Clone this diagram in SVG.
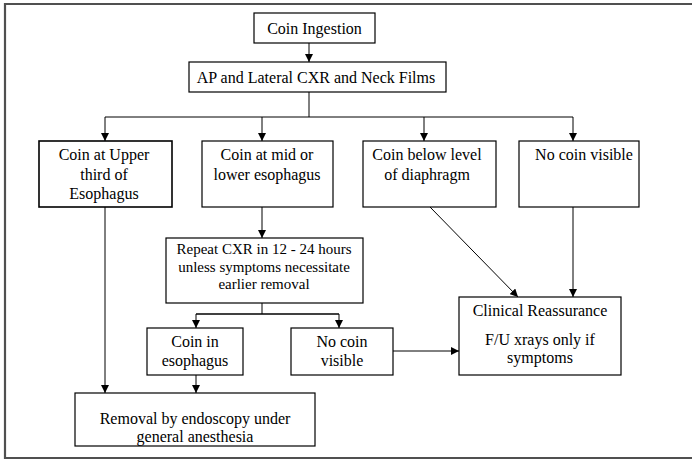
<svg xmlns="http://www.w3.org/2000/svg" width="692" height="460" viewBox="0 0 692 460">
<style>
text{font-family:'Liberation Serif','Times New Roman',Times,'DejaVu Serif',serif;font-size:16px;fill:#000;text-anchor:middle}
.box{fill:#fff;stroke:#000;stroke-width:1.2}
.s{font-size:15px}
.c{fill:none;stroke:#000;stroke-width:1}
</style>
<defs>
<marker id="ah" viewBox="0 0 10 10" refX="10" refY="5" markerWidth="8" markerHeight="8" markerUnits="userSpaceOnUse" orient="auto">
<path d="M0,0 L10,5 L0,10 z" fill="#000"/>
</marker>
</defs>
<rect width="692" height="460" fill="#fff"/>
<path d="M692,4 H5 V458 H692" fill="none" stroke="#505050" stroke-width="2.2"/>
<g id="connectors">
<line class="c" x1="309" y1="43" x2="309" y2="62" marker-end="url(#ah)"/>
<polyline class="c" points="309,92 309,117"/>
<polyline class="c" points="105,117 573,117"/>
<line class="c" x1="105" y1="117" x2="105" y2="141" marker-end="url(#ah)"/>
<line class="c" x1="262" y1="117" x2="262" y2="141" marker-end="url(#ah)"/>
<line class="c" x1="424" y1="117" x2="424" y2="141" marker-end="url(#ah)"/>
<line class="c" x1="573" y1="117" x2="573" y2="141" marker-end="url(#ah)"/>
<line class="c" x1="262" y1="207" x2="262" y2="238" marker-end="url(#ah)"/>
<polyline class="c" points="262,303 262,314"/>
<polyline class="c" points="196,314 339,314" style="stroke-width:1.4"/>
<line class="c" x1="196" y1="314" x2="196" y2="328" marker-end="url(#ah)"/>
<line class="c" x1="339" y1="314" x2="339" y2="328" marker-end="url(#ah)"/>
<line class="c" x1="393" y1="351" x2="459" y2="351" marker-end="url(#ah)"/>
<line class="c" x1="430" y1="207" x2="518" y2="297" marker-end="url(#ah)"/>
<line class="c" x1="573" y1="207" x2="573" y2="297" marker-end="url(#ah)"/>
<line class="c" x1="105" y1="207" x2="105" y2="393" marker-end="url(#ah)"/>
<line class="c" x1="196" y1="375" x2="196" y2="393" marker-end="url(#ah)"/>
</g>
<g id="coin-ingestion">
<rect class="box" x="254" y="13" width="121" height="30"/>
<text x="314.5" y="34">Coin Ingestion</text>
</g>
<g id="ap-lateral">
<rect class="box" x="189" y="62" width="257" height="30"/>
<text x="316" y="83">AP and Lateral CXR and Neck Films</text>
</g>
<g id="upper-third">
<rect class="box" x="39" y="141" width="133" height="66" style="stroke-width:1.6"/>
<text><tspan x="104" y="160">Coin at Upper</tspan><tspan x="104" y="180">third of</tspan><tspan x="104" y="199">Esophagus</tspan></text>
</g>
<g id="mid-lower">
<rect class="box" x="202" y="141" width="131" height="66"/>
<text><tspan x="267" y="160">Coin at mid or</tspan><tspan x="267" y="180">lower esophagus</tspan></text>
</g>
<g id="below-diaphragm">
<rect class="box" x="363" y="141" width="133" height="66"/>
<text><tspan x="427" y="160">Coin below level</tspan><tspan x="427" y="180">of diaphragm</tspan></text>
</g>
<g id="no-coin-1">
<rect class="box" x="519" y="141" width="120" height="66"/>
<text x="584" y="160">No coin visible</text>
</g>
<g id="repeat-cxr">
<rect class="box" x="166" y="238" width="197" height="65"/>
<text class="s"><tspan x="264" y="254">Repeat CXR in 12 - 24 hours</tspan><tspan x="264" y="272">unless symptoms necessitate</tspan><tspan x="264" y="289">earlier removal</tspan></text>
</g>
<g id="coin-in-esophagus">
<rect class="box" x="147" y="328" width="96" height="47"/>
<text><tspan x="195" y="347">Coin in</tspan><tspan x="195" y="366">esophagus</tspan></text>
</g>
<g id="no-coin-2">
<rect class="box" x="291" y="328" width="102" height="47"/>
<text><tspan x="342" y="347">No coin</tspan><tspan x="342" y="366">visible</tspan></text>
</g>
<g id="clinical-reassurance">
<rect class="box" x="459" y="297" width="162" height="78"/>
<text><tspan x="540" y="316">Clinical Reassurance</tspan><tspan x="540" y="345">F/U xrays only if</tspan><tspan x="540" y="363">symptoms</tspan></text>
</g>
<g id="removal">
<rect class="box" x="75" y="393" width="240" height="53"/>
<text><tspan x="195" y="424">Removal by endoscopy under</tspan><tspan x="195" y="442">general anesthesia</tspan></text>
</g>
</svg>
